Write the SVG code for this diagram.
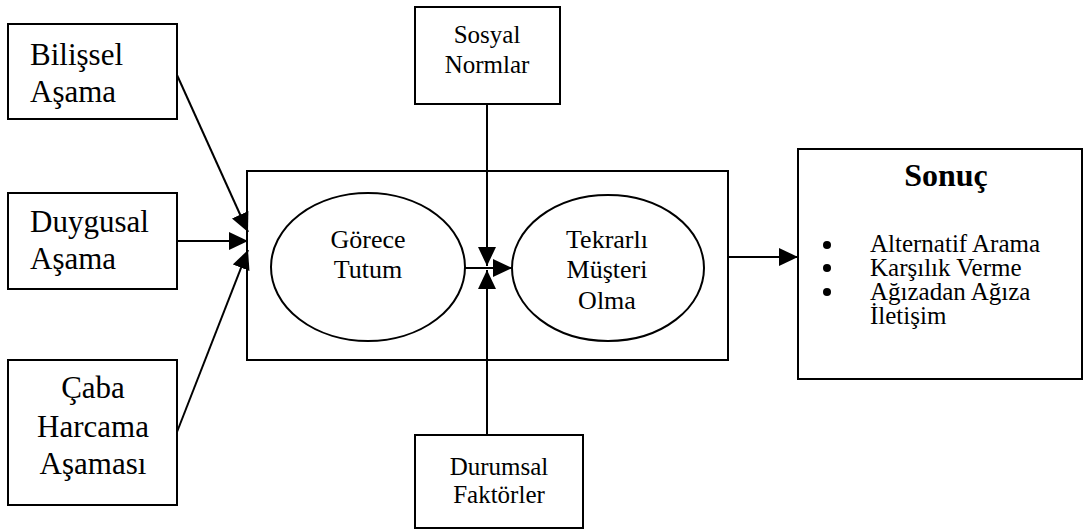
<svg xmlns="http://www.w3.org/2000/svg" width="1085" height="532" viewBox="0 0 1085 532">
  <style>
    .box { fill: #fff; stroke: #000; stroke-width: 2; }
    .ell { fill: #fff; stroke: #000; stroke-width: 2; }
    .t { font-family: "Liberation Serif", "Times New Roman", serif; fill: #000; }
    .big { font-size: 31px; }
    .mid { font-size: 25px; }
    .in { font-size: 26px; }
    .lst { font-size: 25px; }
    .ttl { font-size: 32px; font-weight: bold; }
    .c { text-anchor: middle; }
    .edge { stroke: #000; stroke-width: 2; fill: none; marker-end: url(#ah); }
  </style>
  <defs>
    <marker id="ah" markerUnits="userSpaceOnUse" markerWidth="20" markerHeight="18" refX="19" refY="9" orient="auto" viewBox="0 0 20 18">
      <path d="M0,0 L19,9 L0,18 z" fill="#000"/>
    </marker>
  </defs>

  <g id="bilissel">
    <rect class="box" x="8" y="24" width="169" height="95"/>
    <text class="t big" x="30" y="65">Bilişsel</text>
    <text class="t big" x="30" y="102">Aşama</text>
  </g>
  <g id="duygusal">
    <rect class="box" x="8" y="193" width="169" height="96"/>
    <text class="t big" x="30" y="232">Duygusal</text>
    <text class="t big" x="30" y="269">Aşama</text>
  </g>
  <g id="caba">
    <rect class="box" x="8" y="360" width="169" height="145"/>
    <text class="t big c" x="93" y="398">Çaba</text>
    <text class="t big c" x="93" y="437">Harcama</text>
    <text class="t big c" x="93" y="474">Aşaması</text>
  </g>

  <g id="cerceve">
    <rect class="box" x="247" y="171" width="481" height="189"/>
  </g>
  <g id="gorece">
    <ellipse class="ell" cx="368" cy="267" rx="97" ry="74"/>
    <text class="t in c" x="368" y="248">Görece</text>
    <text class="t in c" x="368" y="278">Tutum</text>
  </g>
  <g id="tekrarli">
    <ellipse class="ell" cx="608" cy="268" rx="96" ry="73"/>
    <text class="t in c" x="607" y="248">Tekrarlı</text>
    <text class="t in c" x="607" y="278">Müşteri</text>
    <text class="t in c" x="607" y="309">Olma</text>
  </g>

  <g id="sosyal">
    <rect class="box" x="415" y="7" width="145" height="97"/>
    <text class="t mid c" x="487" y="43">Sosyal</text>
    <text class="t mid c" x="487" y="73">Normlar</text>
  </g>
  <g id="durumsal">
    <rect class="box" x="415" y="435" width="168" height="93"/>
    <text class="t mid c" x="499" y="475">Durumsal</text>
    <text class="t mid c" x="499" y="503">Faktörler</text>
  </g>

  <g id="sonuc">
    <rect class="box" x="798" y="149" width="284" height="230"/>
    <text class="t ttl c" x="946" y="186">Sonuç</text>
    <circle cx="827" cy="245" r="4"/>
    <circle cx="827" cy="268" r="4"/>
    <circle cx="827" cy="292" r="4"/>
    <text class="t lst" x="870" y="252">Alternatif Arama</text>
    <text class="t lst" x="870" y="276">Karşılık Verme</text>
    <text class="t lst" x="870" y="300">Ağızadan Ağıza</text>
    <text class="t lst" x="870" y="324">İletişim</text>
  </g>

  <g id="connectors">
    <line class="edge" x1="177" y1="75" x2="248" y2="232"/>
    <line class="edge" x1="177" y1="241" x2="248" y2="241"/>
    <line class="edge" x1="177" y1="432" x2="248" y2="250"/>
    <line class="edge" x1="487" y1="104" x2="487" y2="266"/>
    <line class="edge" x1="487" y1="435" x2="487" y2="270"/>
    <line class="edge" x1="465" y1="268" x2="512" y2="268"/>
    <line class="edge" x1="728" y1="257" x2="798" y2="257"/>
  </g>
</svg>
